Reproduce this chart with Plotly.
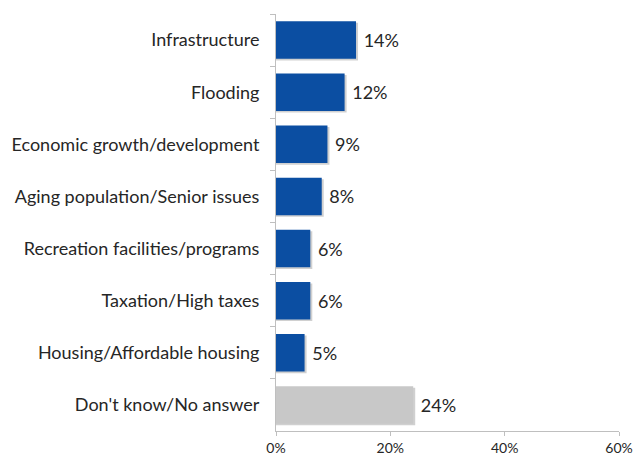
import plotly.graph_objects as go

categories = [
    "Infrastructure",
    "Flooding",
    "Economic growth/development",
    "Aging population/Senior issues",
    "Recreation facilities/programs",
    "Taxation/High taxes",
    "Housing/Affordable housing",
    "Don't know/No answer",
]
values = [14, 12, 9, 8, 6, 6, 5, 24]
colors = ["#0B4EA2"] * 7 + ["#C8C8C8"]
labels = [f"\u00a0{v}%" for v in values]

FONT = "Lato, 'Open Sans', sans-serif"
TEXT_COLOR = "#262626"

fig = go.Figure()

# soft drop shadow under each bar
fig.add_trace(go.Bar(
    x=[v + 0.35 for v in values],
    y=categories,
    orientation="h",
    width=0.72,
    offset=-0.33,
    marker=dict(color="rgba(120,120,120,0.35)", line=dict(width=0)),
    hoverinfo="skip",
    showlegend=False,
))

fig.add_trace(go.Bar(
    x=values,
    y=categories,
    orientation="h",
    width=0.72,
    marker=dict(color=colors, line=dict(width=0)),
    text=labels,
    textposition="outside",
    cliponaxis=False,
    textfont=dict(family=FONT, size=18, color=TEXT_COLOR),
    showlegend=False,
))

fig.update_layout(
    width=633,
    height=457,
    margin=dict(l=276, r=14, t=14, b=26, autoexpand=False),
    paper_bgcolor="white",
    plot_bgcolor="white",
    barmode="overlay",
    font=dict(family=FONT, color=TEXT_COLOR),
)

fig.update_xaxes(
    range=[0, 60],
    tickvals=[0, 20, 40, 60],
    ticktext=["0%", "20%", "40%", "60%"],
    automargin=False,
    showgrid=False,
    zeroline=False,
    showline=True,
    linecolor="#BFBFBF",
    linewidth=1,
    ticks="outside",
    ticklen=4,
    tickcolor="#BFBFBF",
    ticklabelstandoff=0,
    ticklabeloverflow="allow",
    tickfont=dict(family=FONT, size=14, color=TEXT_COLOR),
)

fig.update_yaxes(
    categoryorder="array",
    categoryarray=categories,
    range=[7.5, -0.5],
    automargin=False,
    showgrid=False,
    zeroline=False,
    showline=True,
    linecolor="#BFBFBF",
    linewidth=1,
    ticks="outside",
    tickson="boundaries",
    ticklen=5,
    tickcolor="#BFBFBF",
    ticklabelstandoff=12,
    tickfont=dict(family=FONT, size=18, color=TEXT_COLOR),
)

fig.write_html("out.html")
